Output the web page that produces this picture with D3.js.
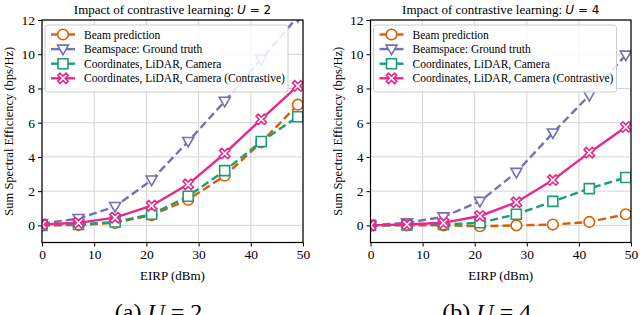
<!DOCTYPE html>
<html>
<head>
<meta charset="utf-8">
<script src="https://cdn.jsdelivr.net/npm/d3@7"></script>
<style>
  body { margin: 0; background: #fff; }
  svg text { font-family: "Liberation Serif", "DejaVu Serif", serif; fill: #000; }
</style>
</head>
<body>
<svg id="chart" width="640" height="315"></svg>
<script>
// EIRP sample points (dBm)
const eirp = [0, 7, 14, 21, 28, 35, 42, 49];
const xTicks = [0, 10, 20, 30, 40, 50];
const yTicks = [0, 2, 4, 6, 8, 10, 12];

const seriesNames = [
  "Beam prediction",
  "Beamspace: Ground truth",
  "Coordinates, LiDAR, Camera",
  "Coordinates, LiDAR, Camera (Contrastive)"
];

// U = 2
const beamPredU2   = [0.0, 0.02, 0.15, 0.6, 1.5, 2.9, 4.85, 7.05];
const groundTruthU2 = [0.1, 0.4, 1.1, 2.65, 4.9, 7.25, 9.7, 12.2];
const coordsU2     = [0.0, 0.05, 0.2, 0.65, 1.7, 3.2, 4.9, 6.35];
const contrastU2   = [0.05, 0.15, 0.45, 1.15, 2.4, 4.2, 6.2, 8.15];

// U = 4
const beamPredU4   = [0.0, 0.0, 0.0, -0.05, 0.0, 0.05, 0.2, 0.65];
const groundTruthU4 = [0.0, 0.15, 0.5, 1.4, 3.1, 5.4, 7.6, 9.95];
const coordsU4     = [0.0, 0.02, 0.05, 0.15, 0.65, 1.4, 2.15, 2.8];
const contrastU4   = [0.0, 0.05, 0.15, 0.55, 1.35, 2.65, 4.25, 5.75];

const colors = ["#d95f02", "#7570b3", "#1b9e77", "#e7298a"];
const dashes = ["8,4", "8,4", "8,4", null];
const markers = ["circle", "triangle", "square", "x"];

const svg = d3.select("#chart");

function markerPath(type) {
  if (type === "triangle") return "M-5.5,-4 L5.5,-4 L0,5.5 Z";
  if (type === "square") return "M-5,-5 H5 V5 H-5 Z";
  if (type === "x") {
    const a = 2.2, b = 5.2;
    return `M${-b},${-b + a} L${-b + a},${-b} L0,${-a} L${b - a},${-b} L${b},${-b + a} L${a},0 L${b},${b - a} L${b - a},${b} L0,${a} L${-b + a},${b} L${-b},${b - a} L${-a},0 Z`;
  }
  return null;
}

function drawMarker(g, type, color, x, y) {
  if (type === "circle") {
    g.append("circle").attr("cx", x).attr("cy", y).attr("r", 5.3)
      .attr("fill", "#fff").attr("stroke", color).attr("stroke-width", 1.6);
  } else {
    g.append("path").attr("d", markerPath(type))
      .attr("transform", `translate(${x},${y})`)
      .attr("fill", "#fff").attr("stroke", color).attr("stroke-width", 1.6)
      .attr("stroke-linejoin", "miter");
  }
}

function drawPanel(opts) {
  const { left, right, top, bottom, data, uVal, caption, id } = opts;
  const x = d3.scaleLinear().domain([0, 50]).range([left, right]);
  const y = d3.scaleLinear().domain([-1, 12]).range([bottom, top]);
  const g = svg.append("g");

  g.append("clipPath").attr("id", id)
    .append("rect").attr("x", left).attr("y", top).attr("width", right - left).attr("height", bottom - top);

  // grid
  g.append("g").selectAll("line").data(xTicks).join("line")
    .attr("x1", d => x(d)).attr("x2", d => x(d)).attr("y1", top).attr("y2", bottom)
    .attr("stroke", "#d4d4d4").attr("stroke-width", 1);
  g.append("g").selectAll("line").data(yTicks).join("line")
    .attr("x1", left).attr("x2", right).attr("y1", d => y(d)).attr("y2", d => y(d))
    .attr("stroke", "#d4d4d4").attr("stroke-width", 1);

  // series
  const plot = g.append("g").attr("clip-path", `url(#${id})`);
  const line = d3.line().x((d, i) => x(eirp[i])).y(d => y(d));
  data.forEach((vals, s) => {
    plot.append("path").datum(vals).attr("d", line)
      .attr("fill", "none").attr("stroke", colors[s]).attr("stroke-width", 2.4)
      .attr("stroke-dasharray", dashes[s]);
    vals.forEach((v, i) => drawMarker(plot, markers[s], colors[s], x(eirp[i]), y(v)));
  });

  // axes
  const xAxis = d3.axisBottom(x).tickValues(xTicks).tickSize(4).tickPadding(3);
  const yAxis = d3.axisLeft(y).tickValues(yTicks).tickSize(4).tickPadding(3);
  const ax = g.append("g").attr("transform", `translate(0,${bottom})`).call(xAxis);
  const ay = g.append("g").attr("transform", `translate(${left},0)`).call(yAxis);
  [ax, ay].forEach(a => {
    a.select(".domain").remove();
    a.selectAll("line").attr("stroke", "#000").attr("stroke-width", 1);
    a.selectAll("text").attr("font-family", "Liberation Serif").attr("font-size", 13.5).attr("fill", "#000");
  });
  g.append("rect").attr("x", left).attr("y", top).attr("width", right - left).attr("height", bottom - top)
    .attr("fill", "none").attr("stroke", "#000").attr("stroke-width", 1.2);

  // labels
  g.append("text").attr("x", (left + right) / 2).attr("y", bottom + 37)
    .attr("text-anchor", "middle").attr("font-size", 13).text("EIRP (dBm)");
  g.append("text").attr("transform", `translate(${left - 29},${(top + bottom) / 2}) rotate(-90)`)
    .attr("text-anchor", "middle").attr("font-size", 12.5).text("Sum Spectral Efficiency (bps/Hz)");

  const t = g.append("text").attr("x", (left + right) / 2).attr("y", top - 6)
    .attr("text-anchor", "middle").attr("font-size", 13);
  t.append("tspan").text("Impact of contrastive learning: ");
  t.append("tspan").attr("font-family", "DejaVu Sans").attr("font-style", "italic").attr("font-size", 12).text("U");
  t.append("tspan").attr("font-family", "DejaVu Sans").attr("font-size", 12).text(" = " + uVal);

  const c = g.append("text").attr("x", (left + right) / 2 - 14).attr("y", 320)
    .attr("text-anchor", "middle").attr("font-size", 24);
  c.append("tspan").text(caption + " ");
  c.append("tspan").attr("font-style", "italic").text("U");
  c.append("tspan").text(" = " + uVal);

  // legend
  const lg = g.append("g").attr("transform", `translate(${left + 3},${top + 5})`);
  lg.append("rect").attr("width", 243).attr("height", 67).attr("rx", 2.5)
    .attr("fill", "#fff").attr("fill-opacity", 0.85).attr("stroke", "#cccccc").attr("stroke-width", 1);
  seriesNames.forEach((name, s) => {
    const yy = 9.5 + s * 14.6;
    lg.append("line").attr("x1", 6).attr("x2", 30).attr("y1", yy).attr("y2", yy)
      .attr("stroke", colors[s]).attr("stroke-width", 2.4);
    drawMarker(lg, markers[s], colors[s], 18, yy);
    lg.append("text").attr("x", 39).attr("y", yy + 4).attr("font-size", 11.5).text(name);
  });
}

drawPanel({ left: 42, right: 303, top: 20, bottom: 242.5, id: "clipA", uVal: 2, caption: "(a)",
  data: [beamPredU2, groundTruthU2, coordsU2, contrastU2] });
drawPanel({ left: 370.5, right: 631, top: 20, bottom: 242.5, id: "clipB", uVal: 4, caption: "(b)",
  data: [beamPredU4, groundTruthU4, coordsU4, contrastU4] });
</script>
</body>
</html>
